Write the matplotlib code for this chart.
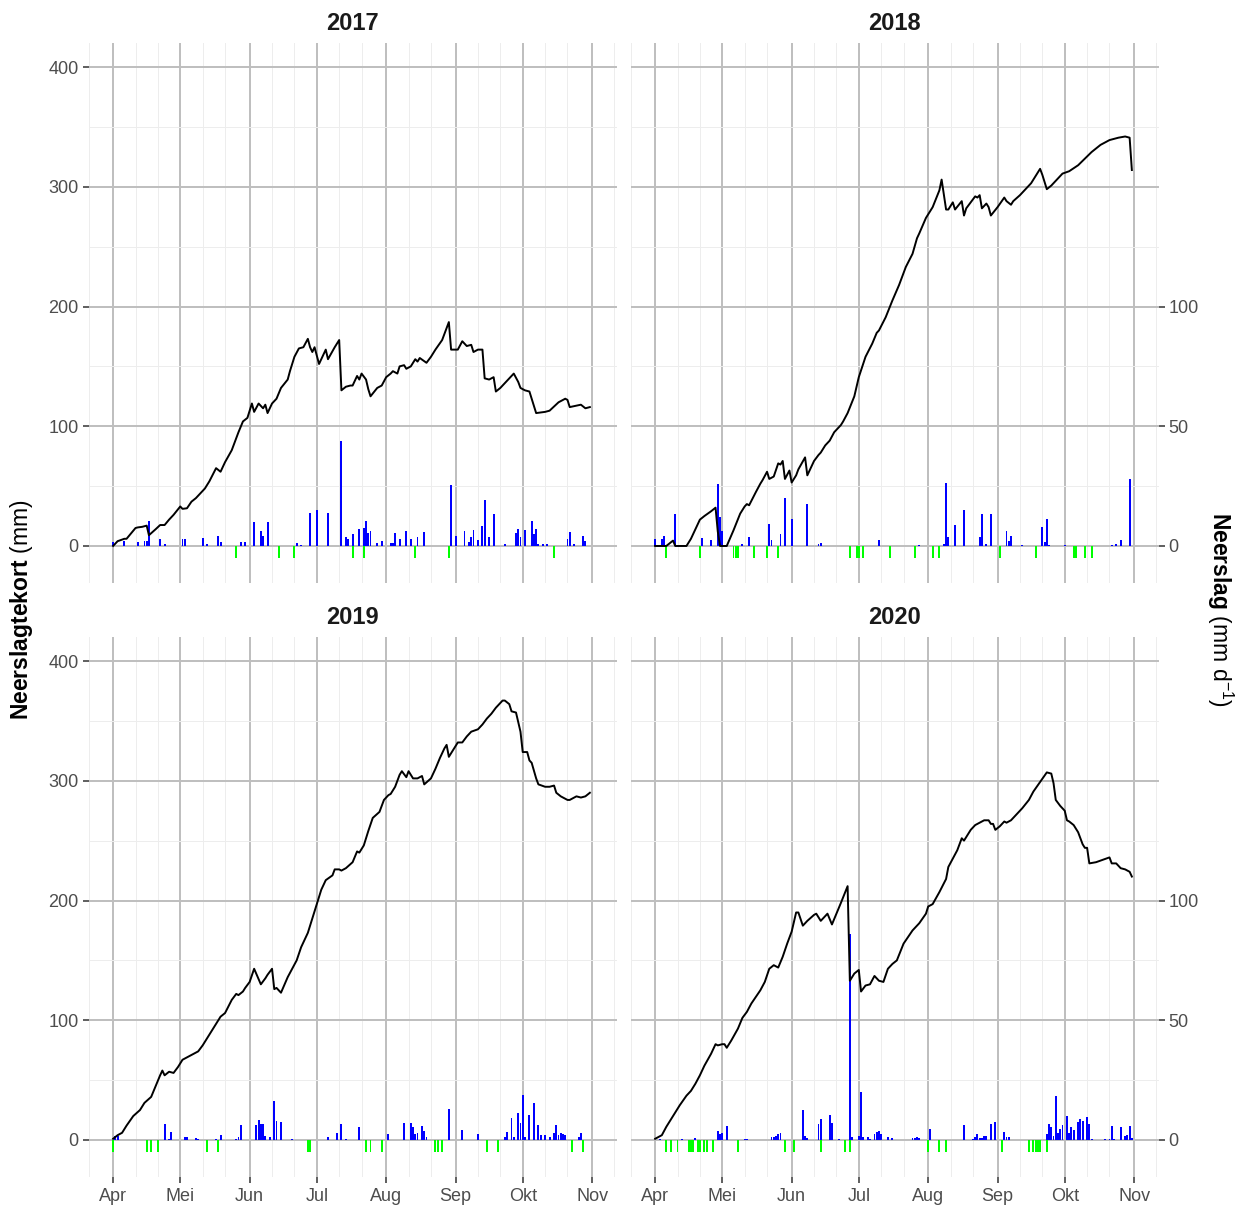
import matplotlib
matplotlib.use("Agg")
import matplotlib.pyplot as plt
import matplotlib.transforms as mtransforms

plt.rcParams['font.family'] = ['Liberation Sans', 'DejaVu Sans']
plt.rcParams['mathtext.fontset'] = 'custom'
plt.rcParams['mathtext.rm'] = 'Liberation Sans'
plt.rcParams['mathtext.bf'] = 'Liberation Sans:bold'

# ---------------------------------------------------------------------------
# Data: day numbers count from 1 April of each season (day 0 = 1 April)
# ---------------------------------------------------------------------------
MONTH_DAYS = [0, 30, 61, 91, 122, 153, 183, 214]
MONTH_LABELS = ["Apr", "Mei", "Jun", "Jul", "Aug", "Sep", "Okt", "Nov"]
MINOR_DAYS = [-11, 10, 20, 40, 50, 71, 81, 101, 111, 132, 142, 163, 173,
              193, 203, 224]

# cumulative precipitation deficit (mm): (day, value)
deficit_2017 = [
    (0, 0), (2, 4), (5, 6), (6, 6), (10, 15), (11, 15.5), (13, 16), (15, 17),
    (16, 9), (19, 14), (21, 17.5), (23, 17.5), (25, 22), (27, 26), (30, 33),
    (31, 31), (33, 31.5), (35, 37), (37, 40), (40, 46), (41, 48), (43, 54),
    (46, 65), (48, 62), (50, 70), (53, 80), (56, 95), (58, 104), (60, 107),
    (62, 119), (63, 112), (65, 119), (67, 115), (68, 118), (69, 111),
    (71, 119), (73, 123), (75, 132), (78, 139), (79, 146), (81, 158),
    (83, 165), (85, 166), (87, 173), (88, 166), (89, 162), (90, 166),
    (92, 152), (95, 164), (96, 156), (99, 166), (101, 172), (102, 130),
    (104, 133), (106, 134), (107, 134), (109, 142), (110, 139), (111, 144),
    (113, 139), (114, 131), (115, 125), (118, 132), (120, 134), (122, 141),
    (124, 144), (125, 146), (127, 144), (128, 150), (130, 151), (131, 148),
    (133, 150), (135, 156), (136, 154), (137, 157), (140, 153), (142, 158),
    (144, 164), (147, 172), (150, 187), (151, 164), (154, 164), (156, 171),
    (158, 167), (160, 168), (161, 162), (163, 164), (165, 164), (166, 140),
    (168, 139), (170, 141), (171, 129), (173, 132), (179, 144), (181, 137),
    (182, 132), (184, 130), (186, 129), (187, 123), (189, 111), (193, 112),
    (195, 113), (199, 120), (202, 123), (203, 122), (204, 116), (209, 118),
    (211, 115), (213, 116),
]
deficit_2018 = [
    (0, 0), (5, 0), (8, 4.5), (9, 0), (14, 0), (16, 6), (20, 22), (22, 25),
    (25, 29), (27, 32), (28, 12), (29, 0), (32, 0), (35, 13), (38, 27),
    (40, 33), (41, 35), (42, 34), (45, 45), (47, 52), (48, 55), (50, 62),
    (51, 56), (53, 58), (55, 69), (56, 68), (57, 71), (58, 56), (60, 63),
    (61, 53), (63, 59), (64, 64), (67, 74), (68, 59), (71, 71), (73, 76),
    (74, 78), (76, 84), (78, 88), (80, 95), (83, 101), (84, 104), (86, 111),
    (89, 125), (91, 141), (94, 158), (97, 169), (99, 178), (100, 180),
    (103, 191), (106, 205), (109, 218), (112, 233), (115, 244), (117, 257),
    (118, 261), (121, 274), (124, 283), (127, 297), (128, 306), (130, 281),
    (131, 281), (133, 287), (134, 281), (137, 288), (138, 276), (139, 282),
    (143, 292), (144, 291), (145, 293), (146, 282), (148, 286), (149, 283),
    (150, 276), (153, 283), (156, 291), (157, 288), (159, 285), (160, 288),
    (163, 293), (165, 297), (168, 303), (172, 315), (173, 310), (175, 298),
    (177, 301), (180, 307), (182, 311), (185, 313), (189, 318), (195, 329),
    (199, 335), (203, 339), (207, 341), (210, 342), (212, 341), (213, 314),
]
deficit_2019 = [
    (0, 1), (2, 4), (4, 6), (6, 12), (9, 20), (12, 25), (14, 31), (17, 36),
    (19, 45), (21, 54), (22, 58), (23, 54), (25, 57), (27, 56), (29, 61),
    (31, 67), (34, 70), (36, 72), (38, 74), (40, 79), (43, 88), (46, 97),
    (48, 103), (50, 106), (53, 117), (55, 122), (56, 121), (58, 124),
    (59, 127), (61, 132), (63, 143), (66, 130), (68, 135), (69, 138),
    (71, 143), (72, 126), (73, 127), (75, 123), (78, 136), (80, 143),
    (82, 150), (84, 161), (87, 173), (89, 185), (91, 197), (93, 209),
    (95, 217), (98, 221), (99, 226), (101, 226), (102, 225), (104, 227),
    (107, 232), (109, 241), (110, 240), (112, 246), (114, 258), (116, 269),
    (119, 274), (121, 284), (123, 288), (124, 289), (126, 295), (128, 305),
    (129, 308), (131, 303), (132, 308), (134, 302), (136, 302), (138, 304),
    (139, 297), (142, 302), (144, 310), (146, 319), (148, 327), (149, 330),
    (150, 320), (152, 326), (154, 332), (156, 332), (158, 337), (160, 341),
    (163, 343), (165, 347), (167, 352), (169, 356), (171, 361), (174, 367),
    (175, 367), (177, 364), (178, 358), (180, 357), (182, 341), (183, 324),
    (185, 324), (186, 317), (187, 315), (189, 302), (190, 297), (193, 295),
    (195, 295), (197, 296), (198, 290), (200, 287), (203, 284), (204, 284),
    (207, 287), (209, 286), (211, 287), (213, 290),
]
deficit_2020 = [
    (0, 1), (1, 2), (3, 4), (5, 11), (8, 20), (11, 29), (14, 37), (16, 41),
    (18, 47), (20, 54), (22, 62), (25, 72), (27, 80), (28, 79), (30, 80),
    (31, 80), (32, 77), (34, 83), (37, 93), (39, 102), (41, 107), (43, 114),
    (47, 125), (49, 132), (51, 143), (53, 146), (55, 144), (57, 153),
    (59, 164), (61, 174), (63, 190), (64, 190), (66, 179), (68, 183),
    (71, 188), (72, 189), (74, 183), (77, 189), (79, 180), (81, 189),
    (83, 198), (86, 212), (87, 133), (89, 139), (91, 142), (92, 124),
    (94, 129), (96, 130), (98, 137), (100, 133), (102, 132), (104, 143),
    (106, 147), (108, 150), (111, 164), (115, 175), (118, 181), (121, 189),
    (122, 195), (124, 197), (127, 207), (130, 218), (131, 228), (135, 242),
    (137, 252), (138, 250), (141, 259), (143, 263), (145, 265), (147, 267),
    (149, 267), (150, 264), (151, 264), (152, 259), (154, 262), (156, 266),
    (157, 265), (159, 267), (161, 271), (164, 277), (167, 284), (169, 291),
    (172, 299), (175, 307), (177, 306), (178, 298), (179, 284), (181, 279),
    (183, 275), (184, 267), (185, 266), (187, 263), (189, 257), (191, 247),
    (192, 244), (193, 244), (194, 231), (197, 232), (200, 234), (203, 236),
    (204, 231), (206, 231), (208, 227), (210, 226), (212, 224), (213, 220),
]

# daily precipitation (mm/d): (day, value)
rain_2017 = [
    (0, 1.5), (5, 2.2), (11, 1.5), (14, 2.2), (15, 2.2), (16, 10.4), (21, 2.9),
    (23, 1.0), (31, 2.8), (32, 2.8), (40, 3.5), (42, 1.0), (47, 4.2), (48, 1.5),
    (57, 1.5), (59, 1.5), (63, 10.0), (66, 6.2), (67, 4.2), (69, 10.0),
    (82, 1.4), (84, 0.5), (88, 13.9), (91, 15.0), (96, 13.9), (102, 44.0),
    (104, 3.7), (105, 2.8), (107, 4.9), (110, 7.0), (112, 7.7), (113, 10.5),
    (114, 5.5), (115, 6.2), (118, 1.1), (120, 2.2), (124, 1.4), (125, 1.4),
    (126, 5.3), (128, 2.8), (131, 6.1), (133, 2.8), (136, 3.6), (139, 5.9),
    (151, 25.4), (153, 4.2), (157, 6.2), (159, 1.8), (160, 3.8), (161, 6.7),
    (163, 2.5), (165, 8.3), (166, 19.0), (168, 3.8), (170, 13.5), (175, 0.7),
    (180, 5.6), (181, 7.0), (182, 3.8), (184, 6.5), (187, 10.5), (188, 5.1),
    (189, 7.1), (190, 0.7), (192, 0.7), (194, 0.7), (203, 2.8), (204, 6.0),
    (206, 0.7), (210, 4.0), (211, 2.2),
]
rain_2018 = [
    (0, 2.9), (3, 2.9), (4, 4.2), (9, 13.2), (13, 0.5), (21, 3.5), (25, 2.5),
    (28, 25.9), (29, 12.2), (30, 6.2), (39, 0.7), (42, 3.6), (51, 9.2),
    (52, 2.4), (56, 4.8), (58, 19.9), (61, 11.2), (68, 17.4), (73, 0.7),
    (74, 1.4), (100, 2.5), (118, 0.4), (129, 0.7), (130, 26.5), (131, 3.9),
    (134, 8.8), (138, 15.0), (145, 3.6), (146, 13.2), (148, 0.7), (150, 13.2),
    (157, 6.2), (158, 2.2), (159, 4.2), (164, 0.4), (173, 8.0), (174, 1.8),
    (175, 11.4), (176, 0.6), (183, 0.4), (204, 0.6), (206, 0.8), (208, 2.5),
    (212, 27.8),
]
rain_2019 = [
    (1, 1.6), (2, 1.8), (23, 6.7), (25, 0.6), (26, 3.5), (32, 1.4), (33, 1.2),
    (37, 1.0), (38, 0.6), (46, 0.5), (48, 2.2), (55, 0.6), (56, 1.4), (57, 6.2),
    (64, 6.2), (65, 8.4), (66, 6.7), (67, 6.7), (68, 1.8), (70, 1.4),
    (72, 16.4), (73, 8.0), (75, 7.4), (80, 0.3), (96, 1.1), (100, 2.8),
    (102, 6.5), (104, 0.4), (110, 5.6), (123, 2.4), (130, 7.0), (133, 7.0),
    (134, 5.5), (135, 2.4), (136, 2.8), (138, 5.9), (139, 3.9), (140, 1.4),
    (150, 13.0), (156, 4.2), (163, 2.4), (175, 1.4), (176, 3.2), (178, 9.0),
    (179, 1.4), (181, 11.4), (182, 7.2), (183, 18.8), (184, 1.4), (186, 10.5),
    (188, 15.3), (190, 6.2), (191, 2.0), (193, 2.0), (195, 1.4), (197, 2.8),
    (198, 6.2), (199, 2.0), (200, 2.8), (201, 2.4), (202, 2.2), (208, 1.4),
    (209, 2.8),
]
rain_2020 = [
    (2, 0.3), (12, 0.3), (18, 0.8), (28, 3.9), (29, 2.5), (30, 2.8), (32, 6.0),
    (40, 0.4), (41, 0.4), (52, 1.2), (53, 1.2), (54, 1.5), (55, 2.5), (56, 2.8),
    (66, 12.5), (67, 1.8), (68, 1.0), (73, 6.7), (74, 8.8), (78, 10.6),
    (79, 7.0), (82, 0.3), (87, 86.0), (88, 1.1), (91, 1.8), (92, 19.9),
    (93, 1.1), (95, 1.4), (96, 0.3), (98, 2.5), (99, 3.2), (100, 3.9),
    (101, 2.5), (104, 1.4), (106, 0.7), (115, 1.0), (116, 0.7), (117, 1.4),
    (118, 1.0), (123, 4.6), (138, 6.4), (142, 0.6), (143, 1.1), (144, 2.5),
    (145, 0.7), (146, 0.8), (147, 1.5), (148, 1.8), (150, 6.7), (152, 7.4),
    (156, 3.2), (157, 1.4), (158, 1.4), (175, 2.5), (176, 6.7), (177, 5.6),
    (178, 1.8), (179, 18.5), (180, 2.8), (181, 4.6), (182, 6.4), (184, 10.2),
    (185, 2.8), (186, 5.3), (187, 4.2), (189, 7.7), (190, 8.8), (191, 8.1),
    (193, 9.5), (194, 6.7), (195, 0.4), (201, 0.3), (203, 0.4), (204, 5.7),
    (205, 0.4), (208, 5.3), (210, 1.8), (211, 2.2), (212, 6.0), (213, 1.0),
]

# flagged days, drawn as short green marks below the zero line
flags_2017 = [55, 74, 81, 107, 112, 135, 150, 197]
flags_2018 = [5, 20, 35, 36, 37, 44, 50, 55, 87, 90, 91, 93, 105, 116, 124,
              127, 154, 170, 187, 188, 192, 195]
flags_2019 = [0, 15, 17, 20, 42, 47, 87, 88, 113, 115, 120, 144, 145, 147,
              167, 172, 205, 210]
flags_2020 = [5, 7, 10, 15, 16, 17, 19, 20, 22, 23, 26, 37, 58, 62, 74, 85,
              87, 122, 127, 130, 155, 167, 169, 170, 171, 172, 175]

SEASONS = {
    2017: (deficit_2017, rain_2017, flags_2017),
    2018: (deficit_2018, rain_2018, flags_2018),
    2019: (deficit_2019, rain_2019, flags_2019),
    2020: (deficit_2020, rain_2020, flags_2020),
}

# ratio between the deficit axis (left) and the precipitation axis (right)
RAIN_SCALE = 2.0
FLAG_DEPTH = -10.0
BAR_WIDTH = 0.85

# ---------------------------------------------------------------------------
# Figure layout (pixel based, 100 dpi)
# ---------------------------------------------------------------------------
W, H = 1245, 1207
fig = plt.figure(figsize=(W / 100, H / 100), dpi=100)
fig.patch.set_facecolor('white')

PW, PH = 528, 540
PANELS = {
    2017: (88.5, 42.5, 'tl'),
    2018: (630.5, 42.5, 'tr'),
    2019: (88.5, 636.5, 'bl'),
    2020: (630.5, 636.5, 'br'),
}

GRID_MAJOR = '#BEBEBE'
GRID_MINOR = '#EDEDED'
TICK_COLOR = '#333333'
LABEL_COLOR = '#4D4D4D'

for year, (x0, y0, pos) in PANELS.items():
    deficit, rain, flags = SEASONS[year]
    ax = fig.add_axes([x0 / W, 1 - (y0 + PH) / H, PW / W, PH / H])
    ax.set_facecolor('white')
    for s in ax.spines.values():
        s.set_visible(False)

    ax.set_xlim(-10.9, 224.9)
    ax.set_ylim(-30.5, 420.5)

    ax.set_xticks(MONTH_DAYS)
    ax.set_xticks(MINOR_DAYS, minor=True)
    ax.set_yticks([0, 100, 200, 300, 400])
    ax.set_yticks([50, 150, 250, 350], minor=True)
    ax.set_axisbelow(True)
    ax.grid(which='major', color=GRID_MAJOR, linewidth=1.4)
    ax.grid(which='minor', color=GRID_MINOR, linewidth=0.7)
    ax.tick_params(which='minor', length=0)

    # precipitation bars use the right-hand scale
    rain_trans = mtransforms.Affine2D().scale(1, RAIN_SCALE) + ax.transData
    r_days = [d for d, _ in rain]
    r_vals = [v for _, v in rain]
    ax.bar(r_days, r_vals, width=BAR_WIDTH, color='#0000FF', linewidth=0,
           transform=rain_trans, zorder=2)

    ax.bar(flags, [FLAG_DEPTH] * len(flags), width=BAR_WIDTH,
           color='#00FF00', linewidth=0, zorder=2)

    d_days = [d for d, _ in deficit]
    d_vals = [v for _, v in deficit]
    ax.plot(d_days, d_vals, color='black', linewidth=1.4, zorder=3,
            solid_joinstyle='round')

    # axis ticks per panel position
    if pos in ('bl', 'br'):
        ax.set_xticklabels(MONTH_LABELS)
        ax.tick_params(axis='x', which='major', length=4.5, width=1.1,
                       color=TICK_COLOR, labelcolor=LABEL_COLOR,
                       labelsize=13, pad=3.5)
    else:
        ax.tick_params(axis='x', which='major', length=0, labelbottom=False)

    if pos in ('tl', 'bl'):
        ax.tick_params(axis='y', which='major', length=4.5, width=1.1,
                       color=TICK_COLOR, labelcolor=LABEL_COLOR,
                       labelsize=13, pad=2.5)
    else:
        ax.tick_params(axis='y', which='major', length=0, labelleft=False)
        sec = ax.secondary_yaxis('right',
                                 functions=(lambda y: y / RAIN_SCALE,
                                            lambda y: y * RAIN_SCALE))
        sec.set_yticks([0, 50, 100])
        for s in sec.spines.values():
            s.set_visible(False)
        sec.tick_params(axis='y', which='major', length=4.5, width=1.1,
                        color=TICK_COLOR, labelcolor=LABEL_COLOR,
                        labelsize=13, pad=2.5)
        sec.tick_params(which='minor', length=0)

    # facet strip title
    fig.text((x0 + PW / 2) / W, 1 - (y0 - 19) / H, str(year), ha='center',
             va='center', fontsize=17, fontweight='bold', color='#1A1A1A')

fig.text(22 / W, 1 - 609.5 / H, r'$\bf{Neerslagtekort}$ (mm)', rotation=90,
         ha='center', va='center', fontsize=16.5, color='black')
fig.text(1220 / W, 1 - 609.5 / H, r'$\bf{Neerslag}$ (mm d$^{-1}$)',
         rotation=270, ha='center', va='center', fontsize=16.5, color='black')

fig.savefig('out.png', dpi=100, facecolor='white')
